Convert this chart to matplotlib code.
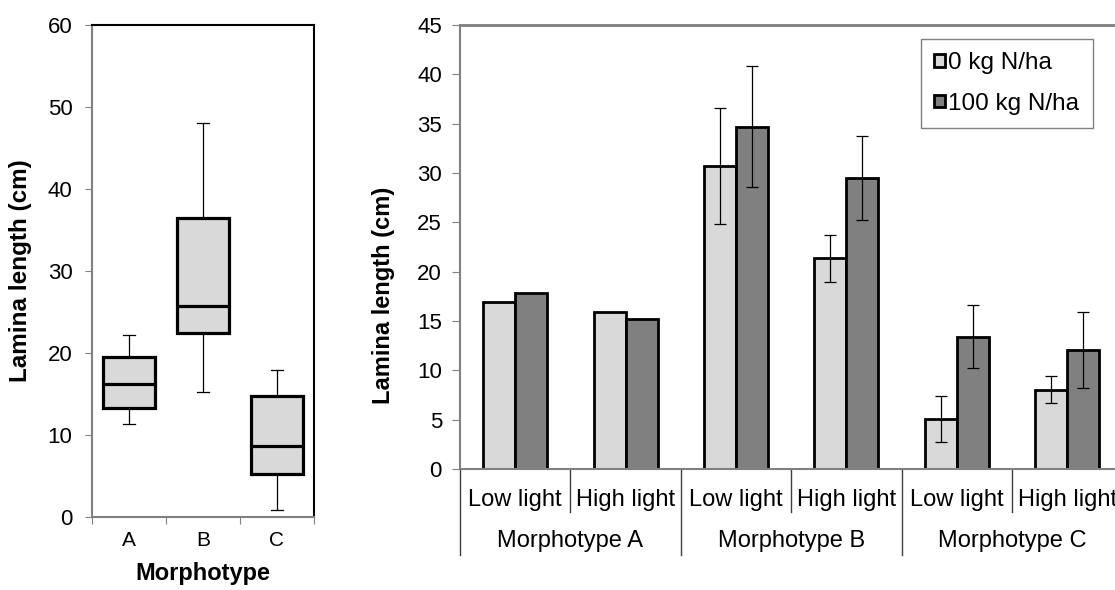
import numpy as np
import matplotlib.pyplot as plt

plt.rcParams['font.family'] = ['Liberation Sans', 'DejaVu Sans']

# Left panel: box plot per morphotype
morphotypes = ['A', 'B', 'C']
box_low = [11.3, 15.3, 0.9]
box_q1 = [13.3, 22.4, 5.2]
box_med = [16.2, 25.7, 8.6]
box_q3 = [19.5, 36.5, 14.7]
box_high = [22.2, 48.1, 17.9]

# Right panel: mean lamina length per light level and nitrogen dose
light_levels = ['Low light', 'High light', 'Low light', 'High light', 'Low light', 'High light']
groups = ['Morphotype A', 'Morphotype B', 'Morphotype C']
series = ['0 kg N/ha', '100 kg N/ha']
n0 = [16.9, 15.9, 30.7, 21.35, 5.05, 8.05]
n0_err = [np.nan, np.nan, 5.9, 2.35, 2.3, 1.4]
n100 = [17.8, 15.2, 34.7, 29.5, 13.4, 12.05]
n100_err = [np.nan, np.nan, 6.1, 4.3, 3.2, 3.85]

W, H = 1115, 590
fig = plt.figure(figsize=(W / 100, H / 100), dpi=100)

grey = '#808080'

# ---- box plot ----
ax1 = fig.add_axes([92 / W, 1 - 517 / H, 222 / W, 492 / H])
stats = []
for i in range(len(morphotypes)):
    stats.append(dict(whislo=box_low[i], q1=box_q1[i], med=box_med[i],
                      q3=box_q3[i], whishi=box_high[i], label=morphotypes[i]))
pos = np.arange(1, len(morphotypes) + 1)
ax1.bxp(stats, positions=pos, widths=0.69, showfliers=False, patch_artist=True,
        manage_ticks=False, capwidths=0.16,
        boxprops=dict(facecolor='#d9d9d9', edgecolor='black', linewidth=2.3),
        medianprops=dict(color='black', linewidth=2.3),
        whiskerprops=dict(color='black', linewidth=0.9),
        capprops=dict(color='black', linewidth=0.9))
ax1.set_xlim(0.5, 3.5)
ax1.set_ylim(0, 60)
ax1.set_yticks(range(0, 61, 10))
ax1.set_xticks(list(pos - 0.5) + [pos[-1] + 0.5])
ax1.set_xticklabels([])
ax1.set_xticks(pos, minor=True)
ax1.set_xticklabels(morphotypes, minor=True, fontsize=15)
ax1.tick_params(axis='x', which='major', length=5, color=grey, direction='out')
ax1.tick_params(axis='x', which='minor', length=0, pad=10)
ax1.tick_params(axis='y', length=5, color=grey, labelsize=16, pad=9)
for s in ['left', 'bottom']:
    ax1.spines[s].set_color(grey)
    ax1.spines[s].set_linewidth(1.5)
for s in ['top', 'right']:
    ax1.spines[s].set_color('black')
    ax1.spines[s].set_linewidth(1.5)
ax1.set_ylabel('Lamina length (cm)', fontsize=17.5, fontweight='bold')
ax1.yaxis.set_label_coords(-0.27, 0.5)
ax1.set_xlabel('Morphotype', fontsize=17, fontweight='bold', labelpad=9)

# ---- bar chart ----
ax2 = fig.add_axes([460 / W, 1 - 469 / H, 662.5 / W, 444 / H])
x = np.arange(len(light_levels))
bw = 0.29
ax2.bar(x - bw / 2, n0, bw, color='#d9d9d9', edgecolor='black', linewidth=2, label=series[0])
ax2.bar(x + bw / 2, n100, bw, color=grey, edgecolor='black', linewidth=2, label=series[1])
for off, vals, err in [(-bw / 2, n0, n0_err), (bw / 2, n100, n100_err)]:
    err = np.array(err)
    m = ~np.isnan(err)
    ax2.errorbar(x[m] + off, np.array(vals)[m], yerr=err[m], fmt='none', ecolor='black',
                 elinewidth=0.9, capsize=4, capthick=0.9)
ax2.set_xlim(-0.5, len(light_levels) - 0.5)
ax2.set_ylim(0, 45)
ax2.set_yticks(range(0, 46, 5))
ax2.set_xticks([])
ax2.tick_params(axis='y', length=6, color=grey, labelsize=16, pad=7)
for s in ['left', 'bottom', 'top']:
    ax2.spines[s].set_color(grey)
    ax2.spines[s].set_linewidth(1.5)
ax2.spines['top'].set_linewidth(2)
ax2.spines['right'].set_visible(False)
ax2.set_ylabel('Lamina length (cm)', fontsize=17, fontweight='bold')
ax2.yaxis.set_label_coords(-0.098, 0.39)

# two-level category labels
tr = ax2.get_xaxis_transform()
for i, lab in enumerate(light_levels):
    ax2.text(i, -0.083, lab, transform=tr, ha='center', va='baseline', fontsize=17)
for g, lab in enumerate(groups):
    ax2.text(2 * g + 0.5, -0.176, lab, transform=tr, ha='center', va='baseline', fontsize=17)
for b in np.arange(-0.5, len(light_levels), 1.0):
    long_line = int(round(b + 0.5)) % 2 == 0
    y_end = -0.194 if long_line else -0.097
    ax2.plot([b, b], [0, y_end], transform=tr, color='#404040', linewidth=1, clip_on=False)

leg = ax2.legend(loc='upper left', bbox_to_anchor=(921 / W, 1 - 39 / H),
                 bbox_transform=fig.transFigure, borderaxespad=0, fontsize=17.5,
                 handlelength=0.42, handleheight=0.42, handletextpad=0.15,
                 labelspacing=0.75, borderpad=0.55, fancybox=False, framealpha=1)
leg.get_frame().set_edgecolor(grey)
leg.get_frame().set_linewidth(1)

fig.savefig('out.png', dpi=100)
